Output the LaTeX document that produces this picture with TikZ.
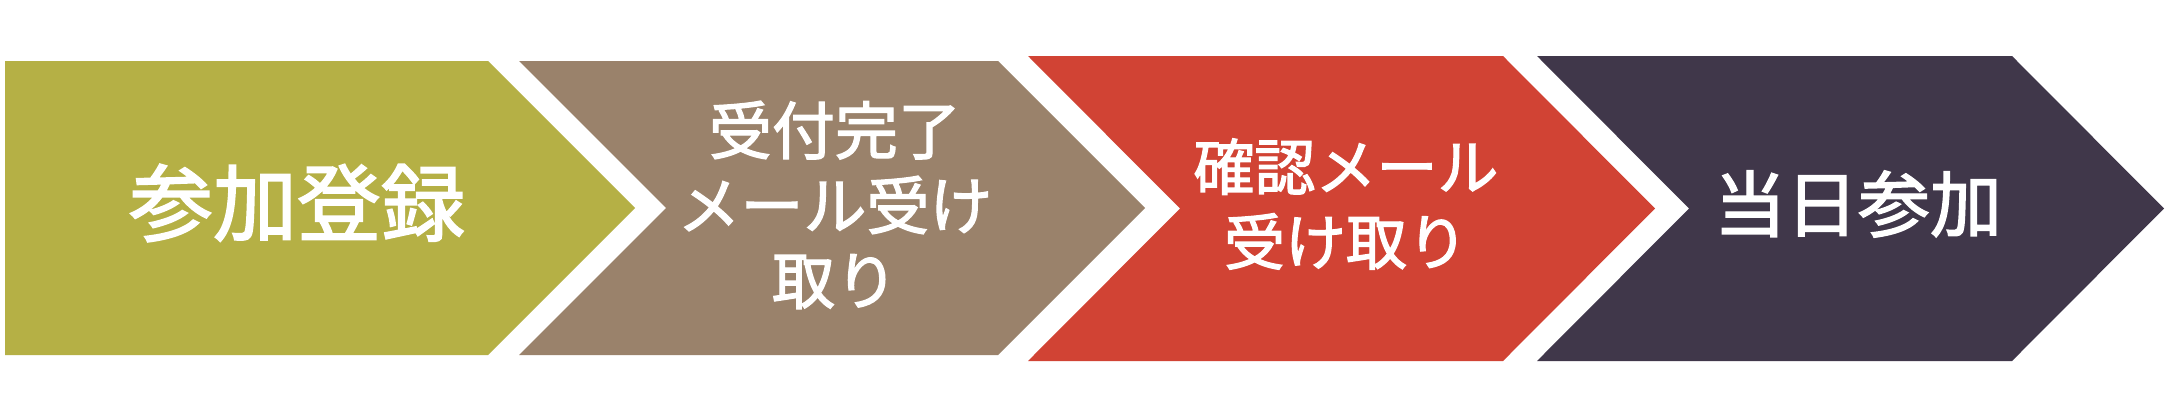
\documentclass[tikz,border=0pt]{standalone}
\usepackage{fontspec}
\newfontfamily\jpfont{Noto Sans CJK JP}[FakeBold=2]
\definecolor{cOlive}{HTML}{B5B045}
\definecolor{cBrown}{HTML}{9A826B}
\definecolor{cRed}{HTML}{D14334}
\definecolor{cDark}{HTML}{40374A}
\tikzset{
  lbl/.style={text=white, align=center, inner sep=0pt, font=\jpfont},
}
\begin{document}
\begin{tikzpicture}[x=1pt,y=-1pt]
\useasboundingbox (0,0) rectangle (2172,416);
\fill[white] (0,0) rectangle (2172,416);
% shapes
\fill[cOlive] (5,61) -- (488,61) -- (635,208) -- (488,355) -- (5,355) -- cycle;
\fill[cBrown] (519,61) -- (998,61) -- (1145,208) -- (998,355) -- (519,355) -- (666,208) -- cycle;
\fill[cRed] (1028,56) -- (1503,56) -- (1655,208.5) -- (1503,361) -- (1028,361) -- (1180,208.5) -- cycle;
\fill[cDark] (1537,56) -- (2012,56) -- (2164,208.5) -- (2012,361) -- (1537,361) -- (1689,208.5) -- cycle;
% labels
\node[lbl, font=\jpfont\fontsize{84}{90}\selectfont] (t1) at (297,203) {参加登録};
\node[lbl, font=\jpfont\fontsize{63}{75}\selectfont] (t2) at (835,205) {受付完了\\メール受け\\取り};
\node[lbl, font=\jpfont\fontsize{61}{75}\selectfont] (t3) at (1346,204) {確認メール\\受け取り};
\node[lbl, font=\jpfont\fontsize{72}{80}\selectfont] (t4) at (1858,204) {当日参加};
\end{tikzpicture}
\end{document}
